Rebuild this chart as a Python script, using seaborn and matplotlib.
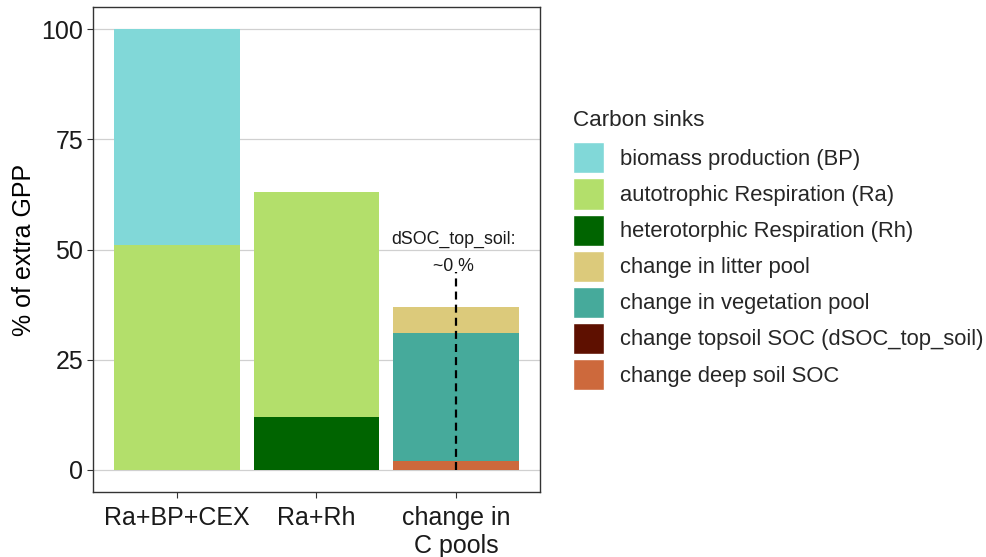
import matplotlib
matplotlib.use("Agg")
import matplotlib.pyplot as plt
import seaborn as sns
import pandas as pd
import numpy as np
from matplotlib.patches import Patch

# ---------------- data ----------------
categories = ["Ra+BP+CEX", "Ra+Rh", "change in\nC pools"]
sinks = ["biomass production (BP)",
         "autotrophic Respiration (Ra)",
         "heterotorphic Respiration (Rh)",
         "change in litter pool",
         "change in vegetation pool",
         "change topsoil SOC (dSOC_top_soil)",
         "change deep soil SOC"]
sink_colors = ["#81D8D8", "#B3DF6B", "#006400", "#DCCA7B", "#46AA9B", "#5E1000", "#CD693C"]

# values per category, listed in legend order (top of stack first)
bar1_sinks = ["biomass production (BP)", "autotrophic Respiration (Ra)"]
bar1_values = [49, 51]
bar2_sinks = ["autotrophic Respiration (Ra)", "heterotorphic Respiration (Rh)"]
bar2_values = [51, 12]
bar3_sinks = ["change in litter pool", "change in vegetation pool",
              "change topsoil SOC (dSOC_top_soil)", "change deep soil SOC"]
bar3_values = [6, 29, 0, 2]

annot_text = "dSOC_top_soil:\n~0 %"
annot_line_top = 45
annot_text_y = 44.3

y_ticks = [0, 25, 50, 75, 100]

# ---------------- build long table with cumulative tops ----------------
rows = []
for cat, ss, vv in [(categories[0], bar1_sinks, bar1_values),
                    (categories[1], bar2_sinks, bar2_values),
                    (categories[2], bar3_sinks, bar3_values)]:
    # stack from bottom (last listed) to top (first listed)
    cum = np.cumsum(vv[::-1])[::-1]
    for s, v, c in zip(ss, vv, cum):
        rows.append({"category": cat, "sink": s, "value": v, "top": c})
df = pd.DataFrame(rows)

# ---------------- plot ----------------
sns.set_theme(style="white")
plt.rcParams["font.family"] = ["Liberation Sans", "DejaVu Sans"]

fig = plt.figure(figsize=(9.87, 5.57), dpi=100)
ax = fig.add_axes([0.0942, 0.1167, 0.4529, 0.8704])

# draw layers top-first so lower layers overdraw the lower part
for s, col in zip(sinks, sink_colors):
    sub = df[(df["sink"] == s) & (df["value"] > 0)]
    if sub.empty:
        continue
    sns.barplot(data=sub, x="category", y="top", order=categories,
                color=col, saturation=1, width=0.9, errorbar=None,
                linewidth=0, ax=ax, zorder=2)

# annotation for topsoil SOC
xi = categories.index("change in\nC pools")
ax.vlines(xi, 0, annot_line_top, colors="black", linewidth=1.6,
          linestyles=(0, (3.6, 2.3)), zorder=3)
ax.text(xi - 0.02, annot_text_y, annot_text, ha="center", va="bottom",
        fontsize=12.8, linespacing=1.75, color="#1a1a1a")

ax.set_xlim(-0.6, 2.6)
ax.set_ylim(-5, 105)
ax.set_yticks(y_ticks)
ax.set_yticklabels([str(t) for t in y_ticks])
ax.set_xlabel("")
ax.set_ylabel("% of extra GPP", fontsize=18, color="black", labelpad=4)

ax.grid(axis="y", color="#D0D0D0", linewidth=0.9, zorder=0)
ax.grid(axis="x", visible=False)
ax.set_axisbelow(True)
for sp in ax.spines.values():
    sp.set_visible(True)
    sp.set_color("#333333")
    sp.set_linewidth(1.0)
ax.tick_params(axis="both", which="major", length=4, width=0.8, color="#333333",
               labelsize=18, labelcolor="#1a1a1a", direction="out", pad=3,
               bottom=True, left=True)
ax.tick_params(axis="x", pad=6)

# legend
handles = [Patch(facecolor=c, edgecolor="white", linewidth=1.0) for c in sink_colors]
leg = fig.legend(handles, sinks, title="Carbon sinks", loc="upper left",
                 bbox_to_anchor=(0.581, 0.802), frameon=False,
                 fontsize=15.8, title_fontsize=16.2, handlelength=1.41,
                 handleheight=1.80, labelspacing=0.23, handletextpad=0.73,
                 borderpad=0, borderaxespad=0, alignment="left")
leg._legend_box.sep = 8

fig.savefig("out.png", dpi=100, facecolor="white")
